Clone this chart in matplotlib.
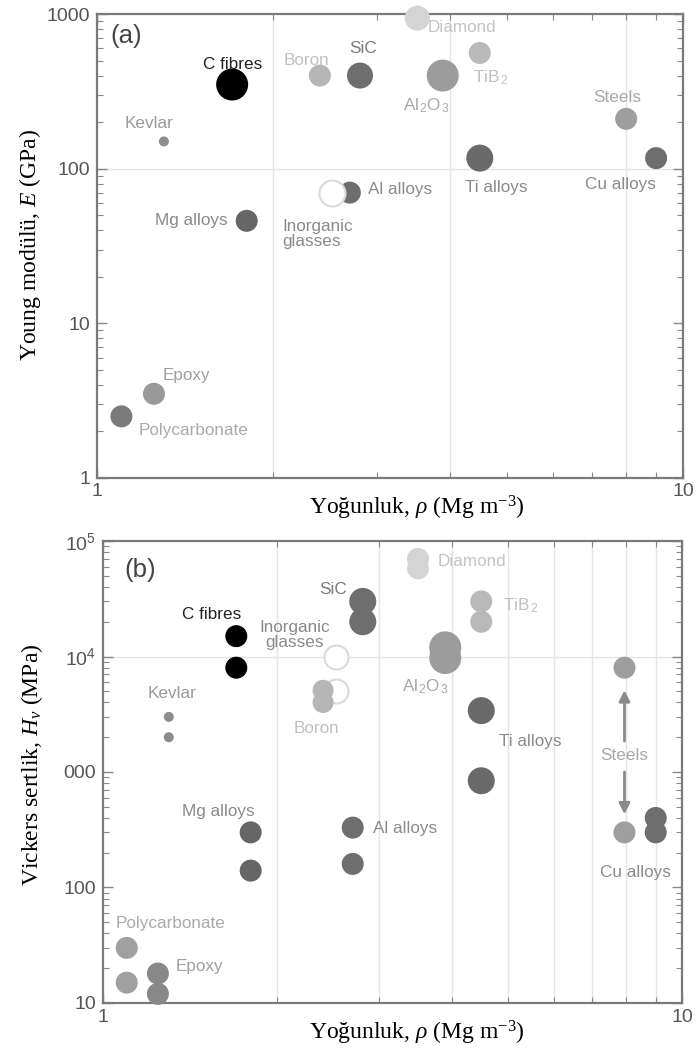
import matplotlib.pyplot as plt
from matplotlib.ticker import FixedLocator, NullFormatter, LogLocator

plt.rcParams['font.family'] = ['Liberation Sans', 'DejaVu Sans']
plt.rcParams['mathtext.fontset'] = 'custom'
plt.rcParams['mathtext.rm'] = 'Liberation Serif'
plt.rcParams['mathtext.it'] = 'Liberation Serif:italic'
plt.rcParams['mathtext.sf'] = 'Liberation Sans'

# (a) Young modulus vs density  (drawing order matters: glasses over Al, C fibres last)
names_a = ['Kevlar', 'Mg alloys', 'Boron', 'SiC', 'Al alloys', 'Inorganic glasses', 'Diamond',
           'Al2O3', 'TiB2', 'Steels', 'Ti alloys', 'Cu alloys', 'Epoxy', 'Polycarbonate', 'C fibres']
rho_a = [1.30, 1.80, 2.40, 2.81, 2.70, 2.52, 3.52, 3.89, 4.50, 8.00, 4.50, 9.00, 1.25, 1.10, 1.70]
E_a = [150, 46, 400, 400, 70, 70, 940, 400, 560, 210, 117, 117, 3.5, 2.5, 350]

# (b) Vickers hardness vs density, two values per material
names_b = ['C fibres', 'Kevlar', 'Inorganic glasses', 'Boron', 'SiC', 'Diamond', 'Al2O3', 'TiB2',
           'Ti alloys', 'Steels', 'Cu alloys', 'Al alloys', 'Mg alloys', 'Polycarbonate', 'Epoxy']
rho_b = [1.70, 1.30, 2.53, 2.40, 2.81, 3.50, 3.90, 4.50, 4.50, 7.95, 9.00, 2.70, 1.80, 1.10, 1.245]
hv_hi = [15000, 3000, 10000, 5100, 30000, 70000, 12000, 30000, 3400, 8000, 400, 330, 300, 30, 18]
hv_lo = [8000, 2000, 5000, 4000, 20000, 58000, 9700, 20000, 840, 300, 300, 160, 140, 15, 12]

# styles
fill = {'C fibres': '#000000', 'Kevlar': '#8c8c8c', 'Mg alloys': '#666666', 'Boron': '#b6b6b6',
        'SiC': '#6e6e6e', 'Inorganic glasses': 'white', 'Al alloys': '#6e6e6e', 'Diamond': '#d4d4d4',
        'Al2O3': '#9c9c9c', 'TiB2': '#b9b9b9', 'Steels': '#9e9e9e', 'Ti alloys': '#6a6a6a',
        'Cu alloys': '#6e6e6e', 'Epoxy': '#999999', 'Polycarbonate': '#7a7a7a'}
fill_b = dict(fill, Epoxy='#888888', Polycarbonate='#a0a0a0')
diam_a = {'C fibres': 32, 'Kevlar': 10, 'Al2O3': 32, 'SiC': 26, 'Inorganic glasses': 26,
          'Ti alloys': 27, 'Diamond': 25}
diam_b = {'C fibres': 22, 'Kevlar': 10, 'Al2O3': 32, 'SiC': 27, 'Inorganic glasses': 24,
          'Ti alloys': 27, 'Boron': 21}

txt_col = {'C fibres': '#222222', 'Kevlar': '#9a9a9a', 'Mg alloys': '#8a8a8a', 'Boron': '#c0c0c0',
           'SiC': '#7a7a7a', 'Inorganic glasses': '#8a8a8a', 'Al alloys': '#8a8a8a',
           'Diamond': '#c4c4c4', 'Al2O3': '#a8a8a8', 'TiB2': '#c0c0c0', 'Steels': '#a8a8a8',
           'Ti alloys': '#8a8a8a', 'Cu alloys': '#8a8a8a', 'Epoxy': '#a0a0a0',
           'Polycarbonate': '#aaaaaa'}
disp = {'Al2O3': r'$\mathsf{Al_{\,2}O_{\,3}}$', 'TiB2': r'$\mathsf{TiB_{\,2}}$',
        'Inorganic glasses': 'Inorganic\nglasses'}

# label anchors (x, y, ha)
lab_a = {'C fibres': (1.70, 470, 'center'), 'Boron': (2.28, 500, 'center'),
         'SiC': (2.84, 600, 'center'), 'Diamond': (3.67, 820, 'left'),
         'TiB2': (4.38, 390, 'left'), 'Al2O3': (3.33, 255, 'left'),
         'Steels': (7.72, 290, 'center'), 'Ti alloys': (4.25, 75, 'left'),
         'Cu alloys': (6.80, 79, 'left'), 'Al alloys': (2.90, 73, 'left'),
         'Kevlar': (1.227, 197, 'center'), 'Mg alloys': (1.673, 46, 'right'),
         'Inorganic glasses': (2.07, 38, 'left'), 'Epoxy': (1.296, 4.6, 'left'),
         'Polycarbonate': (1.175, 2.04, 'left')}
lab_b = {'C fibres': (1.543, 22900, 'center'), 'Kevlar': (1.316, 4830, 'center'),
         'Inorganic glasses': (2.146, 15350, 'center'), 'SiC': (2.50, 37700, 'center'),
         'Boron': (2.34, 2400, 'center'), 'Diamond': (3.78, 65800, 'left'),
         'TiB2': (4.91, 27400, 'left'), 'Al2O3': (3.28, 5450, 'left'),
         'Ti alloys': (5.46, 1820, 'center'), 'Steels': (7.94, 1400, 'center'),
         'Al alloys': (2.93, 327, 'left'), 'Mg alloys': (1.585, 451, 'center'),
         'Cu alloys': (8.29, 134, 'center'), 'Polycarbonate': (1.053, 48.3, 'left'),
         'Epoxy': (1.337, 20.5, 'left')}


def s_of(d):
    return (0.72 * d) ** 2


def setup(ax, yticks, ylabels):
    ax.set_xscale('log')
    ax.set_yscale('log')
    ax.set_xlim(1, 10)
    ax.set_ylim(yticks[0], yticks[-1])
    ax.xaxis.set_major_locator(FixedLocator([1, 10]))
    ax.set_xticklabels(['1', '10'])
    ax.xaxis.set_minor_locator(FixedLocator(range(2, 10)))
    ax.xaxis.set_minor_formatter(NullFormatter())
    ax.yaxis.set_major_locator(FixedLocator(yticks))
    ax.set_yticklabels(ylabels)
    ax.yaxis.set_minor_locator(LogLocator(base=10, subs=range(2, 10)))
    ax.yaxis.set_minor_formatter(NullFormatter())
    ax.tick_params(which='both', direction='in', top=True, right=True, colors='#888888',
                   labelcolor='#555555', labelsize=14)
    ax.tick_params(which='major', length=7, width=1)
    ax.tick_params(which='minor', length=4, width=0.8)
    ax.tick_params(axis='y', pad=5)
    ax.tick_params(axis='x', pad=4)
    for sp in ax.spines.values():
        sp.set_color('#7a7a7a')
        sp.set_linewidth(1.6)


fig = plt.figure(figsize=(6.99, 10.55), dpi=100)

# ---------------- (a)
ax1 = fig.add_axes([0.139, 0.547, 0.838, 0.4397])
setup(ax1, [1, 10, 100, 1000], ['1', '10', '100', '1000'])
for xv in [2, 4, 8]:
    ax1.axvline(xv, color='#e4e4e4', lw=1, zorder=0)
ax1.axhline(100, color='#e4e4e4', lw=1, zorder=0)

for n, x, y in zip(names_a, rho_a, E_a):
    ec = '#dadada' if n == 'Inorganic glasses' else 'none'
    ax1.scatter([x], [y], s=s_of(diam_a.get(n, 22)), c=fill[n], edgecolors=ec,
                linewidths=1.5, zorder=3, clip_on=False)
for n, (x, y, ha) in lab_a.items():
    ax1.text(x, y, disp.get(n, n), ha=ha, va='center', fontsize=12.3, color=txt_col[n],
             linespacing=1.0, zorder=4)
ax1.text(0.022, 0.953, '(a)', transform=ax1.transAxes, fontsize=18.5, color='#444444',
         va='center', ha='left')

# ---------------- (b)
ax2 = fig.add_axes([0.147, 0.0493, 0.829, 0.4379])
setup(ax2, [10, 100, 1000, 1e4, 1e5],
      ['10', '100', '000', r'$\mathsf{10^4}$', r'$\mathsf{10^5}$'])
for xv in range(2, 10):
    ax2.axvline(xv, color='#e4e4e4', lw=1, zorder=0)
ax2.axhline(1e4, color='#e4e4e4', lw=1, zorder=0)

for n, x, hi, lo in zip(names_b, rho_b, hv_hi, hv_lo):
    ec = '#dadada' if n == 'Inorganic glasses' else 'none'
    ax2.scatter([x, x], [hi, lo], s=s_of(diam_b.get(n, 22)), c=fill_b[n], edgecolors=ec,
                linewidths=1.5, zorder=3, clip_on=False)
for n, (x, y, ha) in lab_b.items():
    ax2.text(x, y, disp.get(n, n), ha=ha, va='center', fontsize=12.3, color=txt_col[n],
             linespacing=1.0, zorder=4)
ax2.text(0.038, 0.937, '(b)', transform=ax2.transAxes, fontsize=18.5, color='#444444',
         va='center', ha='left')

# steels arrows
ax2.annotate('', xy=(7.95, 5100), xytext=(7.95, 1850),
             arrowprops=dict(arrowstyle='-|>', color='#8a8a8a', lw=2, mutation_scale=16,
                             shrinkA=0, shrinkB=0))
ax2.annotate('', xy=(7.95, 430), xytext=(7.95, 1000),
             arrowprops=dict(arrowstyle='-|>', color='#8a8a8a', lw=2, mutation_scale=16,
                             shrinkA=0, shrinkB=0))

# axis titles
serif = ['Liberation Serif', 'DejaVu Serif']
fig.text(30 / 699, 1 - 245 / 1055, r'Young modülü, $E$ (GPa)', rotation=90, ha='center',
         va='center', fontsize=17, family=serif)
fig.text(417 / 699, 1 - 508 / 1055, r'Yoğunluk, $\rho$ (Mg m$^{-3}$)', ha='center',
         va='center', fontsize=17, family=serif)
fig.text(32 / 699, 1 - 765 / 1055, r'Vickers sertlik, $H_v$ (MPa)', rotation=90, ha='center',
         va='center', fontsize=17, family=serif)
fig.text(417 / 699, 1 - 1033 / 1055, r'Yoğunluk, $\rho$ (Mg m$^{-3}$)', ha='center',
         va='center', fontsize=17, family=serif)

fig.savefig('out.png', dpi=100)
